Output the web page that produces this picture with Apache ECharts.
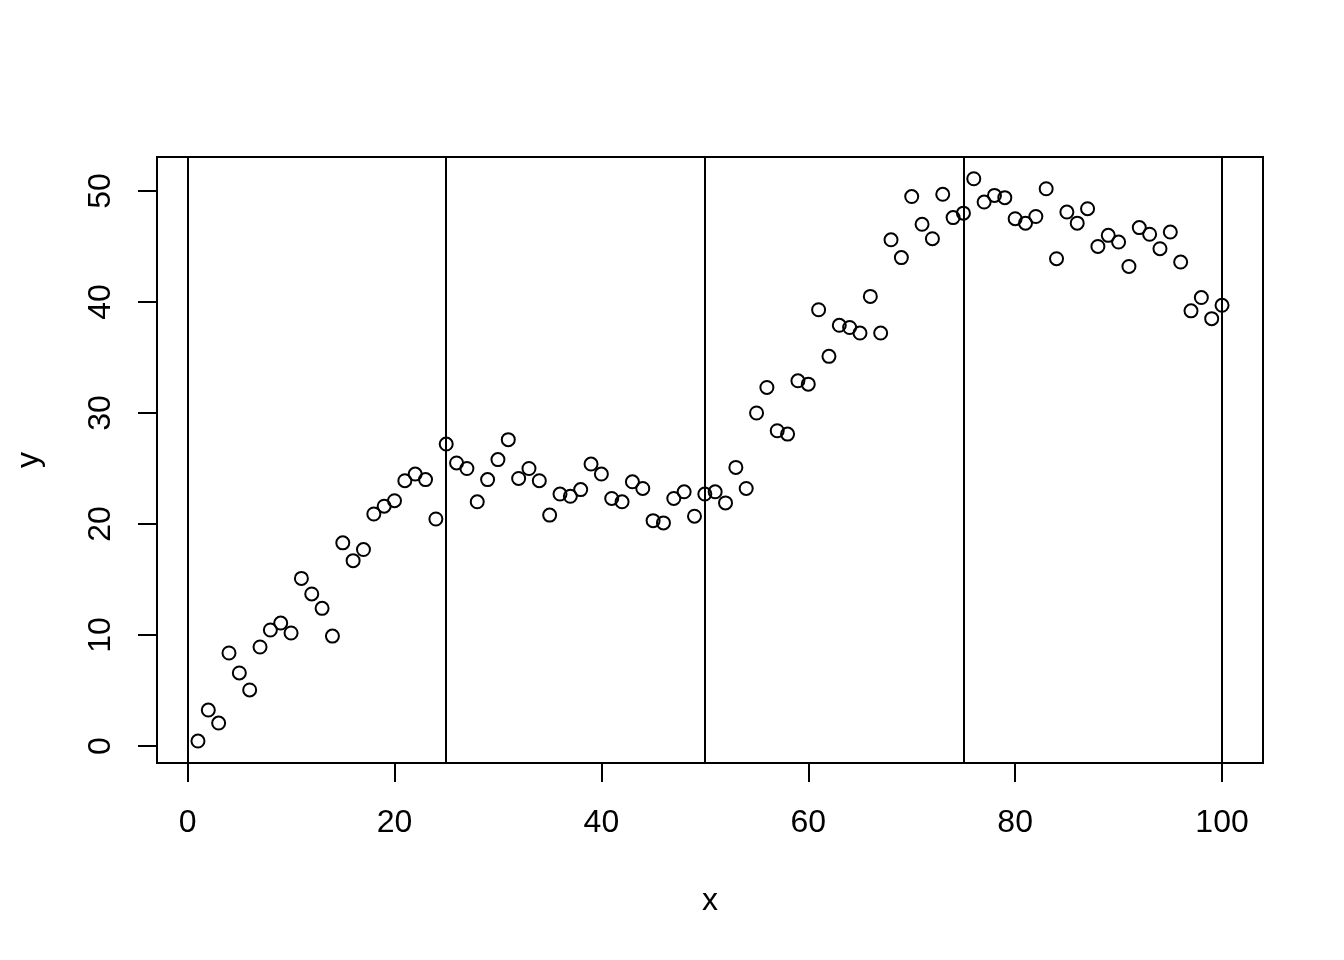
<!DOCTYPE html>
<html>
<head>
<meta charset="utf-8">
<script src="https://cdn.jsdelivr.net/npm/echarts@6/dist/echarts.min.js"></script>
<style>
html,body{margin:0;padding:0;background:#fff;}
#chart{width:1344px;height:960px;}
</style>
</head>
<body>
<div id="chart"></div>
<script>
var xs = [1,2,3,4,5,6,7,8,9,10,11,12,13,14,15,16,17,18,19,20,
  21,22,23,24,25,26,27,28,29,30,31,32,33,34,35,36,37,38,39,40,
  41,42,43,44,45,46,47,48,49,50,51,52,53,54,55,56,57,58,59,60,
  61,62,63,64,65,66,67,68,69,70,71,72,73,74,75,76,77,78,79,80,
  81,82,83,84,85,86,87,88,89,90,91,92,93,94,95,96,97,98,99,100];
var ys = [0.45,3.24,2.07,8.38,6.58,5.05,8.92,10.45,11.08,10.18,
  15.1,13.7,12.4,9.9,18.3,16.7,17.7,20.9,21.6,22.1,
  23.9,24.5,24.0,20.45,27.2,25.5,25.0,22.0,24.0,25.8,
  27.6,24.1,25.0,23.9,20.8,22.7,22.5,23.1,25.4,24.5,
  22.3,22.0,23.8,23.2,20.3,20.1,22.3,22.9,20.7,22.7,
  22.9,21.9,25.1,23.2,30.0,32.3,28.4,28.1,32.9,32.6,
  39.3,35.1,37.9,37.7,37.2,40.5,37.2,45.6,44.0,49.5,
  47.0,45.7,49.7,47.6,48.0,51.1,49.0,49.6,49.4,47.5,
  47.1,47.7,50.2,43.9,48.1,47.1,48.4,45.0,46.0,45.4,
  43.2,46.7,46.1,44.8,46.3,43.6,39.2,40.4,38.5,39.7];
var vlines = [0,25,50,75,100];
var xTicks = [0,20,40,60,80,100];
var yTicks = [0,10,20,30,40,50];

var chart = echarts.init(document.getElementById('chart'), null, {renderer:'canvas'});
var font = 'Liberation Sans, Arial, sans-serif';
var pts = xs.map(function(x,i){return [x, ys[i]];});
chart.setOption({
  animation: false,
  backgroundColor: '#ffffff',
  grid: {left:157, top:157, width:1106, height:606, show:true, borderColor:'#000', borderWidth:2, backgroundColor:'transparent'},
  xAxis: {
    type:'value', min:-2.96, max:103.96,
    name:'x', nameLocation:'middle', nameGap:122,
    nameTextStyle:{fontSize:32, color:'#000', fontFamily:font},
    axisLine:{show:false, onZero:false},
    splitLine:{show:false},
    axisTick:{show:true, length:19, customValues:xTicks, lineStyle:{color:'#000', width:2}},
    axisLabel:{customValues:xTicks, fontSize:32, color:'#000', fontFamily:font, margin:44}
  },
  yAxis: {
    type:'value', min:-1.53, max:53.06,
    name:'y', nameLocation:'middle', nameGap:112,
    nameTextStyle:{fontSize:32, color:'#000', fontFamily:font},
    axisLine:{show:false, onZero:false},
    splitLine:{show:false},
    axisTick:{show:true, length:19, customValues:yTicks, lineStyle:{color:'#000', width:2}},
    axisLabel:{customValues:yTicks, rotate:90, fontSize:32, color:'#000', fontFamily:font, margin:40}
  },
  series: [{
    type:'scatter',
    data: pts,
    symbol:'circle',
    symbolSize:13,
    itemStyle:{color:'rgba(0,0,0,0)', borderColor:'#000', borderWidth:2, opacity:1},
    emphasis:{disabled:true},
    markLine:{
      silent:true,
      symbol:['none','none'],
      label:{show:false},
      lineStyle:{color:'#000', width:2, type:'solid'},
      data: vlines.map(function(v){return {xAxis:v};})
    }
  }]
});
</script>
</body>
</html>
